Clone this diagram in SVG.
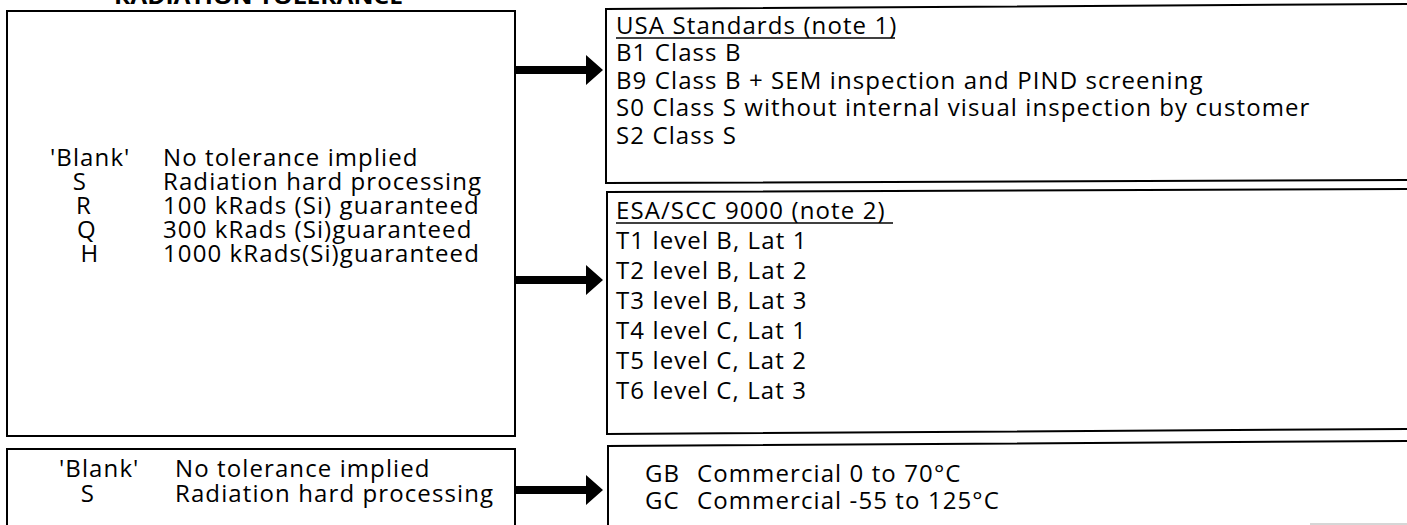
<svg xmlns="http://www.w3.org/2000/svg" width="1407" height="525" viewBox="0 0 1407 525">
  <defs>
    <style>
      .box { fill: #fff; stroke: #000; stroke-width: 2; }
      .t { font-family: "Open Sans", "Liberation Sans", sans-serif; font-size: 24px; letter-spacing: 1.1px; fill: #000; }
      .c { text-anchor: middle; }
      .title { font-family: "Open Sans", "Liberation Sans", sans-serif; font-size: 22px; font-weight: bold; fill: #000; }
      .ul { stroke: #000; stroke-width: 1.6; }
      .arrow { fill: #000; }
    </style>
  </defs>
  <rect width="1407" height="525" fill="#fff"/>

  <!-- heading, cut by the top edge -->
  <text class="title" x="114" y="4" textLength="289" lengthAdjust="spacingAndGlyphs">RADIATION TOLERANCE</text>

  <!-- radiation tolerance options -->
  <g id="radiation">
    <rect class="box" x="7" y="11" width="508" height="425"/>
    <text class="t" x="50" y="166">'Blank'</text>
    <text class="t c" x="80" y="190">S</text>
    <text class="t c" x="84" y="214">R</text>
    <text class="t c" x="87" y="238">Q</text>
    <text class="t c" x="90" y="262">H</text>
    <text class="t" x="163" y="166">No tolerance implied</text>
    <text class="t" x="163" y="190">Radiation hard processing</text>
    <text class="t" x="163" y="214">100 kRads (Si) guaranteed</text>
    <text class="t" x="163" y="238">300 kRads (Si)guaranteed</text>
    <text class="t" x="163" y="262">1000 kRads(Si)guaranteed</text>
  </g>

  <!-- commercial tolerance options -->
  <g id="radiation-commercial">
    <rect class="box" x="7" y="449" width="508" height="90"/>
    <text class="t" x="59" y="477">'Blank'</text>
    <text class="t c" x="88" y="502">S</text>
    <text class="t" x="175" y="477">No tolerance implied</text>
    <text class="t" x="175" y="502">Radiation hard processing</text>
  </g>

  <!-- USA screening levels -->
  <g id="usa-standards">
    <path class="box" d="M1410 4 L606 9 L606 183 L1410 180"/>
    <text class="t" x="616" y="34">USA Standards (note 1)</text>
    <line class="ul" x1="616" y1="38" x2="895" y2="38"/>
    <text class="t" x="616" y="61">B1 Class B</text>
    <text class="t" x="616" y="89">B9 Class B + SEM inspection and PIND screening</text>
    <text class="t" x="616" y="116">S0 Class S without internal visual inspection by customer</text>
    <text class="t" x="616" y="144">S2 Class S</text>
  </g>

  <!-- ESA screening levels -->
  <g id="esa-scc">
    <path class="box" d="M1410 189 L607 192 L607 434 L1410 429"/>
    <text class="t" x="616" y="219">ESA/SCC 9000 (note 2)</text>
    <line class="ul" x1="616" y1="223" x2="893" y2="223"/>
    <text class="t" x="616" y="249">T1 level B, Lat 1</text>
    <text class="t" x="616" y="279">T2 level B, Lat 2</text>
    <text class="t" x="616" y="309">T3 level B, Lat 3</text>
    <text class="t" x="616" y="339">T4 level C, Lat 1</text>
    <text class="t" x="616" y="369">T5 level C, Lat 2</text>
    <text class="t" x="616" y="399">T6 level C, Lat 3</text>
  </g>

  <!-- commercial temperature ranges -->
  <g id="commercial">
    <path class="box" d="M1410 441 L608 446 L608 530"/>
    <text class="t" x="645" y="482">GB</text>
    <text class="t" x="697" y="482">Commercial 0 to 70°C</text>
    <text class="t" x="645" y="509">GC</text>
    <text class="t" x="697" y="509">Commercial -55 to 125°C</text>
  </g>

  <!-- faint rule at the lower right corner -->
  <line x1="1310" y1="524" x2="1407" y2="524" stroke="#c8c8c8" stroke-width="1.5"/>

  <!-- connectors -->
  <g id="connectors">
    <path class="arrow" d="M515 66 H586 V55 L603 70 L586 85 V74 H515 Z"/>
    <path class="arrow" d="M515 276 H586 V265 L603 280 L586 295 V284 H515 Z"/>
    <path class="arrow" d="M515 486 H586 V475 L603 490 L586 505 V494 H515 Z"/>
  </g>
</svg>
